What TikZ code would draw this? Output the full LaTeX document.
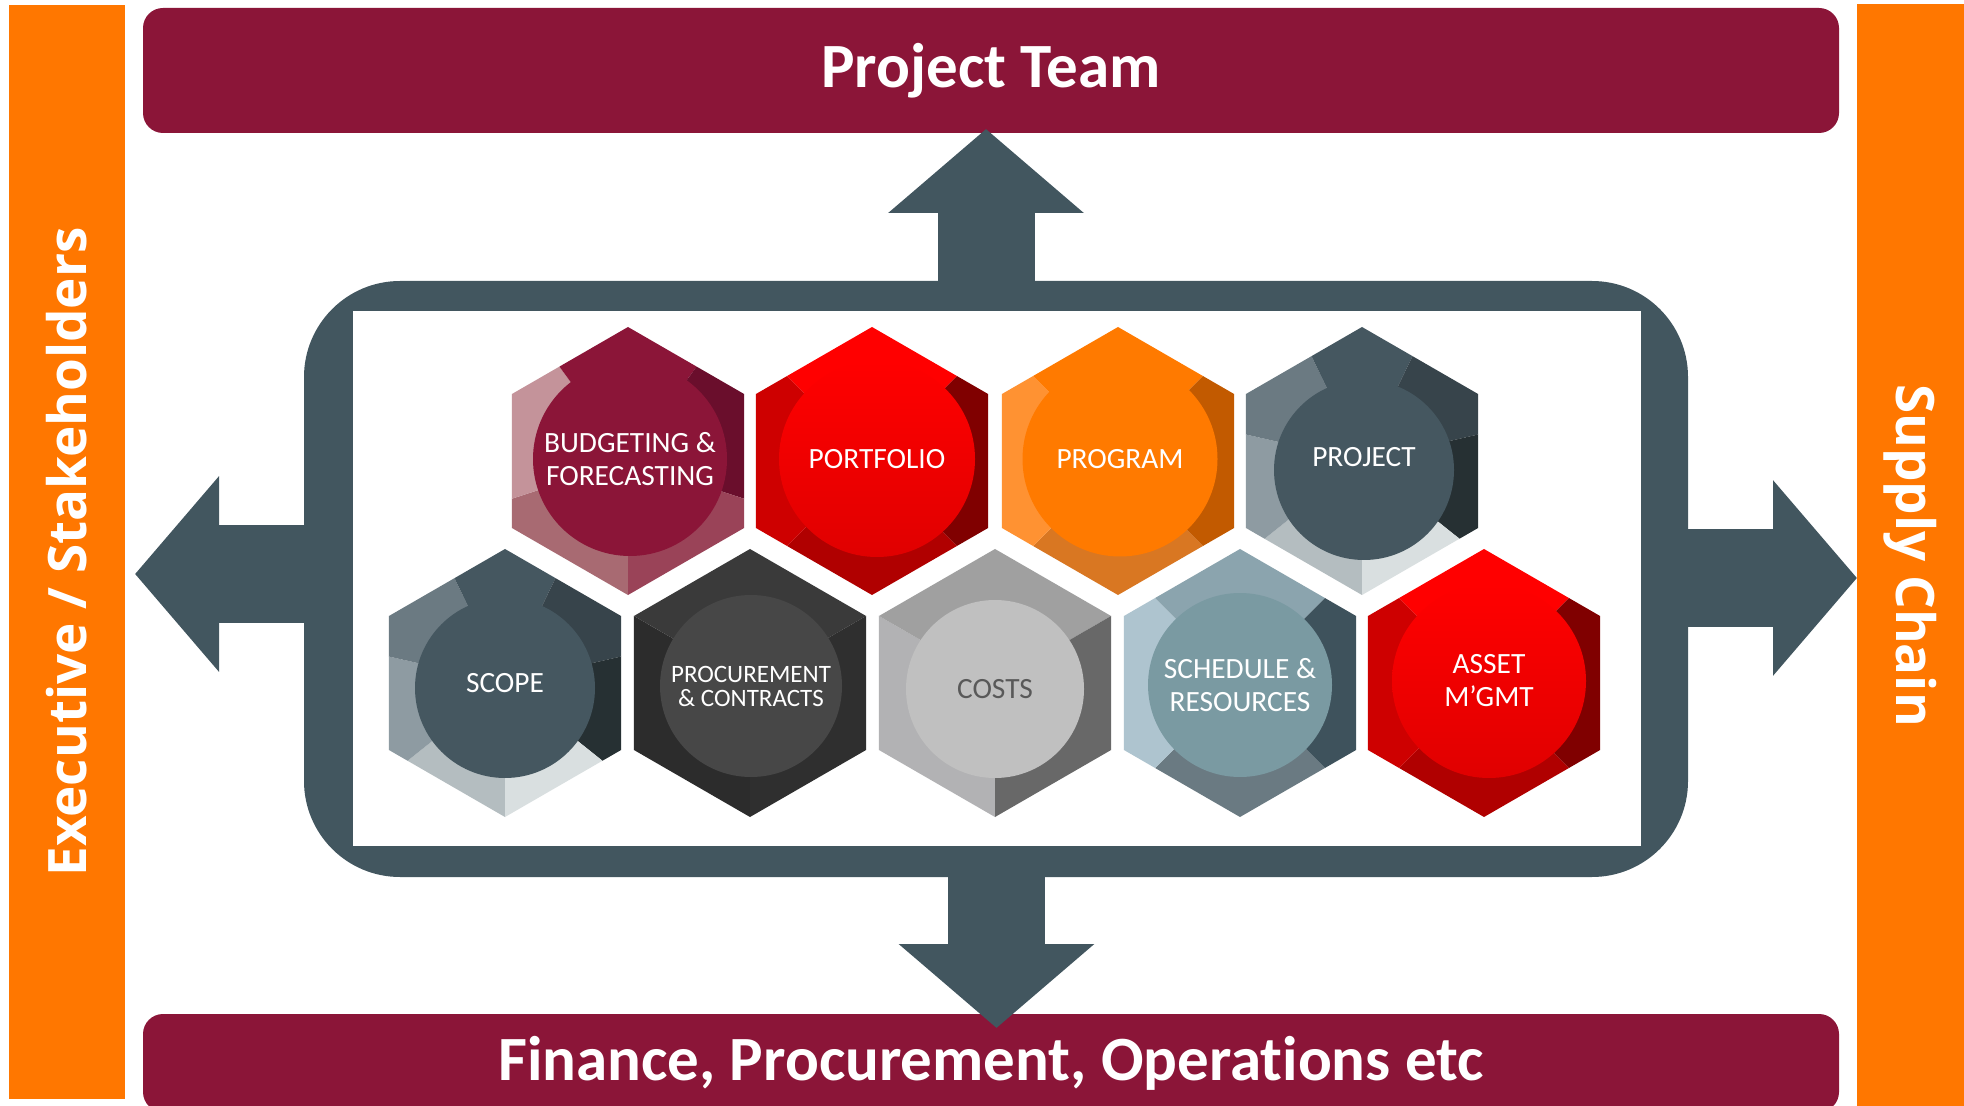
\documentclass[tikz,border=0pt]{standalone}
\usepackage{fontspec}
\setmainfont{Carlito}[Ligatures=NoCommon]
\newfontfamily\sidefont{Open Sans}
\usetikzlibrary{arrows.meta}

\definecolor{maroon}{HTML}{8B1538}
\definecolor{barorange}{HTML}{FF7700}
\definecolor{slate}{HTML}{42565F}
\definecolor{budLL}{HTML}{A86A72}
\definecolor{budL}{HTML}{C4939A}
\definecolor{budT}{HTML}{8B1538}
\definecolor{budUR}{HTML}{6A0E2C}
\definecolor{budLR}{HTML}{9A4358}
\definecolor{redB}{HTML}{B00000}
\definecolor{redL}{HTML}{CE0000}
\definecolor{redT}{HTML}{FF0000}
\definecolor{redR}{HTML}{800000}
\definecolor{redC}{HTML}{E00000}
\definecolor{prgB}{HTML}{D97722}
\definecolor{prgL}{HTML}{FF9232}
\definecolor{prgT}{HTML}{FF7A00}
\definecolor{prgR}{HTML}{C25A00}
\definecolor{prjLL}{HTML}{B4BDC0}
\definecolor{prjL}{HTML}{8E9BA2}
\definecolor{prjUL}{HTML}{6B7A82}
\definecolor{prjT}{HTML}{455760}
\definecolor{prjUR}{HTML}{37444B}
\definecolor{prjR}{HTML}{263033}
\definecolor{prjLR}{HTML}{D9DFE0}
\definecolor{proLL}{HTML}{2C2C2C}
\definecolor{proT}{HTML}{3A3A3A}
\definecolor{proLR}{HTML}{2F2F2F}
\definecolor{proC}{HTML}{474747}
\definecolor{cstLL}{HTML}{B2B2B4}
\definecolor{cstT}{HTML}{A0A0A0}
\definecolor{cstLR}{HTML}{686868}
\definecolor{cstC}{HTML}{C0C0C0}
\definecolor{cstText}{HTML}{595959}
\definecolor{schB}{HTML}{6A7A82}
\definecolor{schL}{HTML}{AEC4CF}
\definecolor{schT}{HTML}{8BA4AE}
\definecolor{schR}{HTML}{3E525C}
\definecolor{schC}{HTML}{7A9AA2}

\begin{document}
\begin{tikzpicture}[x=0.5pt, y=-0.5pt,
    bar/.style={inner sep=0pt, text=white},
    band/.style={bar, fill=maroon, rounded corners=10pt, minimum width=848pt,
        font=\fontsize{31.5}{36}\selectfont\bfseries},
    side/.style={bar, fill=barorange, font=\sidefont\fontsize{26.5}{30}\selectfont\bfseries},
    bigarrow/.style={draw=slate, line width=48.5pt, -{Triangle[length=42pt,width=95.5pt]}},
    cell/.style={circle, inner sep=0pt, align=center, text=white,
        font=\fontsize{14.7}{16.5}\selectfont}]
    \useasboundingbox (0,0) rectangle (1964,1106);

    \node[side, rotate=90, minimum width=547pt, minimum height=58pt] (execs) at (67,552) {Executive / Stakeholders};
    \node[side, rotate=-90, minimum width=551pt, minimum height=53.5pt] (supply) at (1910.5,555.5) {Supply Chain};
    \node[band, minimum height=62.5pt] (team) at (991,70.5) {Project Team};
    \node[band, minimum height=49pt] (finance) at (991,1063) {Finance, Procurement, Operations etc};

    \node[fill=slate, rounded corners=48pt, minimum width=692pt, minimum height=298pt, inner sep=0pt] (hub) at (996,579) {};
    \node[fill=white, minimum width=644pt, minimum height=267.5pt, inner sep=0pt] (board) at (997,578.5) {};

    \coordinate (upTip) at (986,129);
    \coordinate (downTip) at (996.5,1028);
    \coordinate (leftTip) at (135,574);
    \coordinate (rightTip) at (1857,578);
    \draw[bigarrow] (986,296) -- (upTip);
    \draw[bigarrow] (996.5,862) -- (downTip);
    \draw[bigarrow] (320,574) -- (leftTip);
    \draw[bigarrow] (1672,578) -- (rightTip);

    \foreach \cx/\cy/\start/\step/\segs in {
        628/461/90/72/{budLL,budL,budT,budUR,budLR},
        872/461/45/90/{redB,redL,redT,redR},
        1118/461/45/90/{prgB,prgL,prgT,prgR},
        1362/461/90/51.4286/{prjLL,prjL,prjUL,prjT,prjUR,prjR,prjLR},
        505/683/90/51.4286/{prjLL,prjL,prjUL,prjT,prjUR,prjR,prjLR},
        750/683/90/120/{proLL,proT,proLR},
        995/683/90/120/{cstLL,cstT,cstLR},
        1240/683/45/90/{schB,schL,schT,schR},
        1484/683/45/90/{redB,redL,redT,redR}}
    {
        \begin{scope}
            \clip[shift={(\cx,\cy)}] (90:134) -- (30:134) -- (-30:134) -- (-90:134) -- (-150:134) -- (150:134) -- cycle;
            \foreach \col [count=\i from 0] in \segs
                \fill[\col, shift={(\cx,\cy)}] (0,0) -- ({\start+\i*\step}:400)
                    -- ({\start+(\i+0.5)*\step}:400) -- ({\start+(\i+1)*\step}:400) -- cycle;
        \end{scope}
    }

    \node[cell, fill=budT, minimum size=97pt] (budget) at (630,459) {BUDGETING \&\\FORECASTING};
    \node[cell, top color=redT, bottom color=redC, minimum size=98pt] (portfolio) at (877,459) {PORTFOLIO};
    \node[cell, fill=prgT, minimum size=97.5pt] (program) at (1120,459) {PROGRAM};
    \node[cell, fill=prjT, minimum size=90pt] (project) at (1364,470) {\raisebox{1.8pt}[0pt][0pt]{PROJECT}};
    \node[cell, fill=prjT, minimum size=90pt] (scope) at (505,688) {\raisebox{-2.2pt}[0pt][0pt]{SCOPE}};
    \node[cell, fill=proC, minimum size=91pt, font=\fontsize{12.5}{12}\selectfont] (procure) at (751,686) {PROCUREMENT\\\& CONTRACTS};
    \node[cell, fill=cstC, text=cstText, minimum size=89pt] (costs) at (995,689) {COSTS};
    \node[cell, fill=schC, minimum size=92pt] (schedule) at (1240,685) {SCHEDULE \&\\RESOURCES};
    \node[cell, top color=redT, bottom color=redC, minimum size=97pt] (asset) at (1489,681) {ASSET\\M’GMT};
\end{tikzpicture}
\end{document}
